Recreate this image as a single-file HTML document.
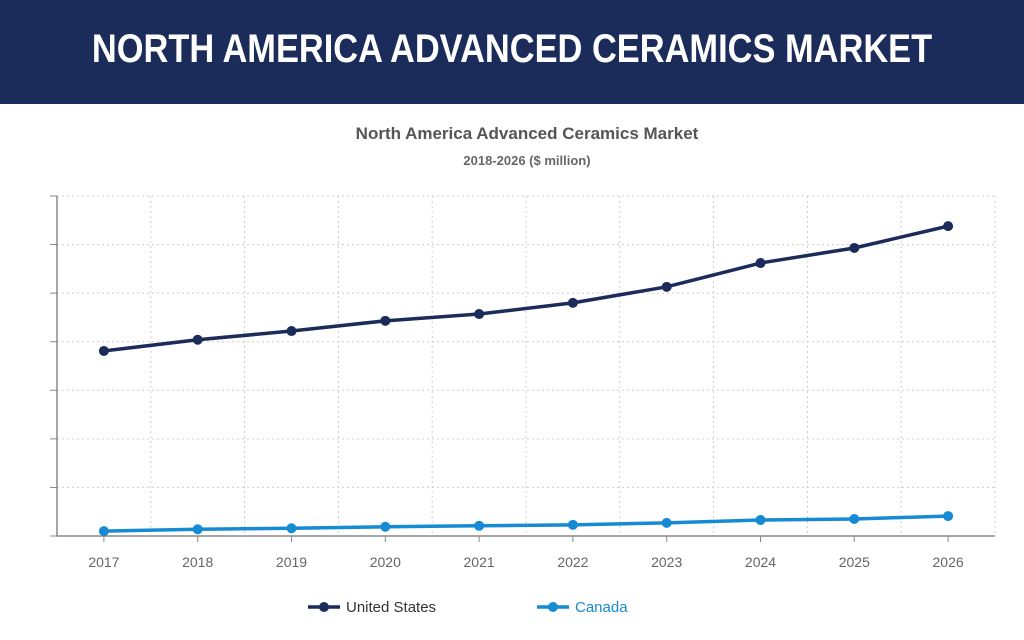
<!DOCTYPE html>
<html><head><meta charset="utf-8"><style>
body{margin:0;width:1024px;height:640px;background:#fff;font-family:"Liberation Sans",sans-serif;overflow:hidden}
#hdr{position:absolute;left:0;top:0;width:1024px;height:104px;background:#1b2b5a}
#hdr span{position:absolute;left:512px;top:26px;white-space:nowrap;color:#fff;font-weight:bold;font-size:40px;line-height:46px;transform:translateX(-50%) scaleX(0.86)}
svg{position:absolute;left:0;top:0}
</style></head><body>
<div id="hdr"><span>NORTH AMERICA ADVANCED CERAMICS MARKET</span></div>
<svg id="c" width="1024" height="640" style="top:0"></svg>
<script>
const categories=["2017","2018","2019","2020","2021","2022","2023","2024","2025","2026"];
const usValues=[381,404,422,443,457,480,513,562,593,638];
const caValues=[10,14,16,19,21,23,27,33,35,41];
const yTicks=[0,100,200,300,400,500,600,700];
const L=57,R=995,T=196,B=536,yMax=700;
const bw=(R-L)/categories.length;
const x=i=>L+bw*(i+0.5);
const y=v=>B-(v/yMax)*(B-T);
const svg=document.getElementById('c');
const NS='http://www.w3.org/2000/svg';
function mk(t,a,p){const e=document.createElementNS(NS,t);for(const k in a)e.setAttribute(k,a[k]);(p||svg).appendChild(e);return e;}
let e;
e=mk('text',{x:527,y:139,'text-anchor':'middle','font-size':17,'font-weight':'bold',fill:'#555'});e.textContent='North America Advanced Ceramics Market';


e=mk('text',{x:527,y:165,'text-anchor':'middle','font-size':13,'font-weight':'bold',fill:'#666'});e.textContent='2018-2026 ($ million)';


yTicks.forEach(v=>{
 if(v>0){e=mk('line',{x1:L,x2:R,y1:y(v),y2:y(v),stroke:'#ccc','stroke-dasharray':'2,3'});
 
 }
 e=mk('line',{x1:L-7,x2:L,y1:y(v),y2:y(v),stroke:'#888'});
 
 
});
for(let i=1;i<=categories.length;i++){
 e=mk('line',{x1:L+bw*i,x2:L+bw*i,y1:T,y2:B,stroke:'#ccc','stroke-dasharray':'2,3'});
 
 
}
e=mk('line',{x1:L,x2:L,y1:T,y2:B,stroke:'#888','stroke-width':1.5});


e=mk('line',{x1:L,x2:R,y1:B,y2:B,stroke:'#888','stroke-width':1.5});


categories.forEach((c,i)=>{
 e=mk('line',{x1:x(i),x2:x(i),y1:B,y2:B+6,stroke:'#888'});
 
 
 e=mk('text',{x:x(i),y:567,'text-anchor':'middle','font-size':14,fill:'#666'});e.textContent=c;
 
 
});
function series(vals,col,name){
 e=mk('polyline',{points:vals.map((v,i)=>x(i)+','+y(v)).join(' '),fill:'none',stroke:col,'stroke-width':3.5});
 
 
 vals.forEach((v,i)=>{e=mk('circle',{cx:x(i),cy:y(v),r:5,fill:col});
 
 });
}
series(usValues,'#1b2b5a','united-states');
series(caValues,'#168ad3','canada');
function leg(x0,col,label,tc,name){
 const g=mk('g',{});
 
 
 mk('line',{x1:x0,x2:x0+32,y1:607,y2:607,stroke:col,'stroke-width':3.5},g);
 mk('circle',{cx:x0+16,cy:607,r:5,fill:col},g);
 const t=mk('text',{x:x0+38,y:612,'font-size':15,fill:tc},g);t.textContent=label;
}
leg(308,'#1b2b5a','United States','#333','legend-united-states');
leg(537,'#168ad3','Canada','#168ad3','legend-canada');
</script>
</body></html>
